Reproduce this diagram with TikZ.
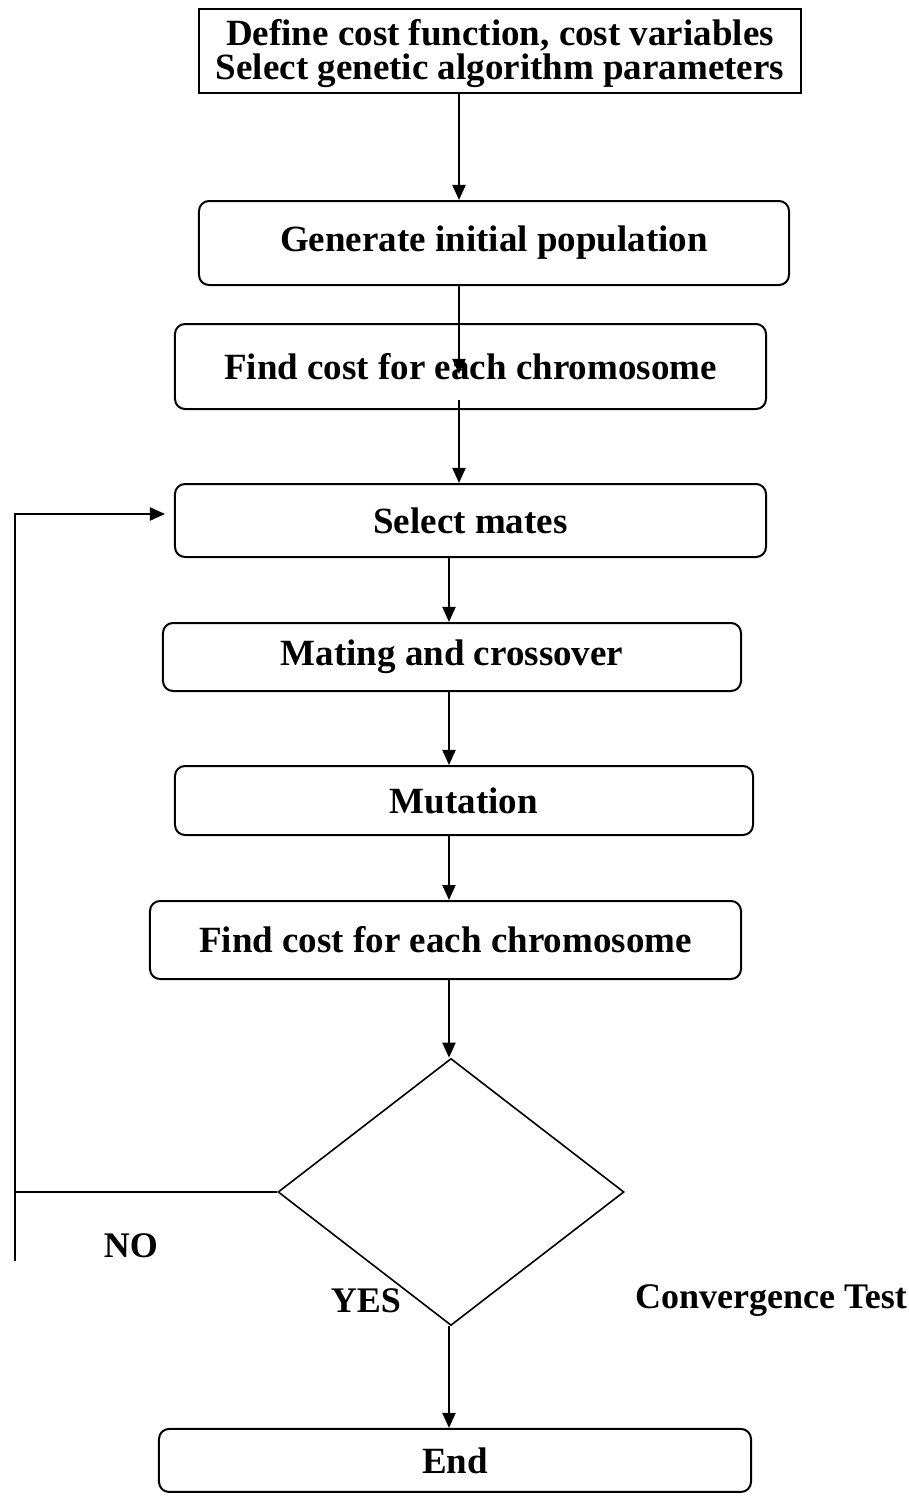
\documentclass[tikz,border=0pt]{standalone}
\usepackage{fontspec}
\setmainfont{Liberation Serif}
\usetikzlibrary{%
   arrows.meta,%
   shapes.geometric,%
   matrix,%
   positioning%
}

\begin{document}
\begin{tikzpicture}[x=1pt,y=1pt,line width=2pt,
	>={Triangle[length=15pt,width=13pt]},
	startbox/.style={
	rectangle,
	draw=black,
	inner sep=0pt,
	minimum width=602pt,
	minimum height=84pt,
	font=\bfseries\fontsize{37}{40}\selectfont
	},process/.style={
	rectangle,rounded corners=10pt,
	draw=black,
	inner sep=0pt,
	minimum width=591pt,
	minimum height=#1,
	font=\bfseries\fontsize{37}{40}\selectfont
	},process/.default=84pt,
	decision/.style={
	diamond,draw=black,inner sep=0pt,line width=1.6pt,
	minimum width=346pt,minimum height=267pt
	},answer/.style={
	font=\bfseries\fontsize{36}{40}\selectfont
	}
]

\matrix (flow) [row sep=0pt,column sep=0pt] {
% Start
\node (define) [startbox,xshift=51pt] {\raisebox{-3pt}[\height][\depth]{\renewcommand{\arraystretch}{0.78}\begin{tabular}{c} Define cost function, cost variables \\[-1pt] Select genetic algorithm parameters \end{tabular}}}; \\[106pt]
\node (gen) [process,minimum width=590pt,xshift=45pt] {Generate initial population}; \\[37pt]
\node (find1) [process=85pt,xshift=21.5pt] {Find cost for each chromosome}; \\[73pt]
% Loop
\node (select) [process=73pt,xshift=21.5pt] {Select mates}; \\[64pt]
\node (mating) [process=68pt,minimum width=578pt,xshift=3pt] {Mating and crossover}; \\[73pt]
\node (mutation) [process=69pt,minimum width=578pt,xshift=15pt] {Mutation}; \\[64pt]
\node (find2) [process=78pt,xshift=-3.5pt] {Find cost for each chromosome}; \\[78pt]
% Test
\node (dia) [decision,xshift=2pt] {}; \\[102pt]
\node (stop) [process=63pt,minimum width=592pt,xshift=6pt] {End}; \\
};

\node (no) [answer] at ([shift={(-320pt,-54pt)}]dia.center) {NO};
\node (yes) [answer] at ([shift={(-85pt,-109pt)}]dia.center) {YES};
\node (conv) [answer] at ([shift={(320pt,-109pt)}]dia.center) {Convergence Test};

\path	([xshift=-41pt]define.south) edge[->] ([xshift=-35pt]gen.north)
	([xshift=-35pt]gen.south) edge[->] ([xshift=-11.5pt,yshift=-7.5pt]find1.center)
	([xshift=-11.5pt,yshift=10pt]find1.south) edge[->] ([xshift=-11.5pt]select.north);
\path	([xshift=-21.5pt]select.south) edge[->] ([xshift=-3pt]mating.north)
	([xshift=-3pt]mating.south) edge[->] ([xshift=-15pt]mutation.north)
	([xshift=-15pt]mutation.south) edge[->] ([xshift=3.5pt]find2.north)
	([xshift=3.5pt]find2.south) edge[->] ([xshift=-2pt]dia.north)
	([xshift=-2pt]dia.south) edge[->] ([xshift=-6pt]stop.north);

%	back to select mates
\draw	(dia.west) -- ++(-262pt,0);
\draw[->] ([xshift=-262pt,yshift=-69pt]dia.west) |- ([xshift=-9pt,yshift=6.5pt]select.west);

\pgfresetboundingbox
\path ([shift={(-198pt,8pt)}]define.north west) rectangle ++(909pt,-1496pt);
\end{tikzpicture}
\end{document}
